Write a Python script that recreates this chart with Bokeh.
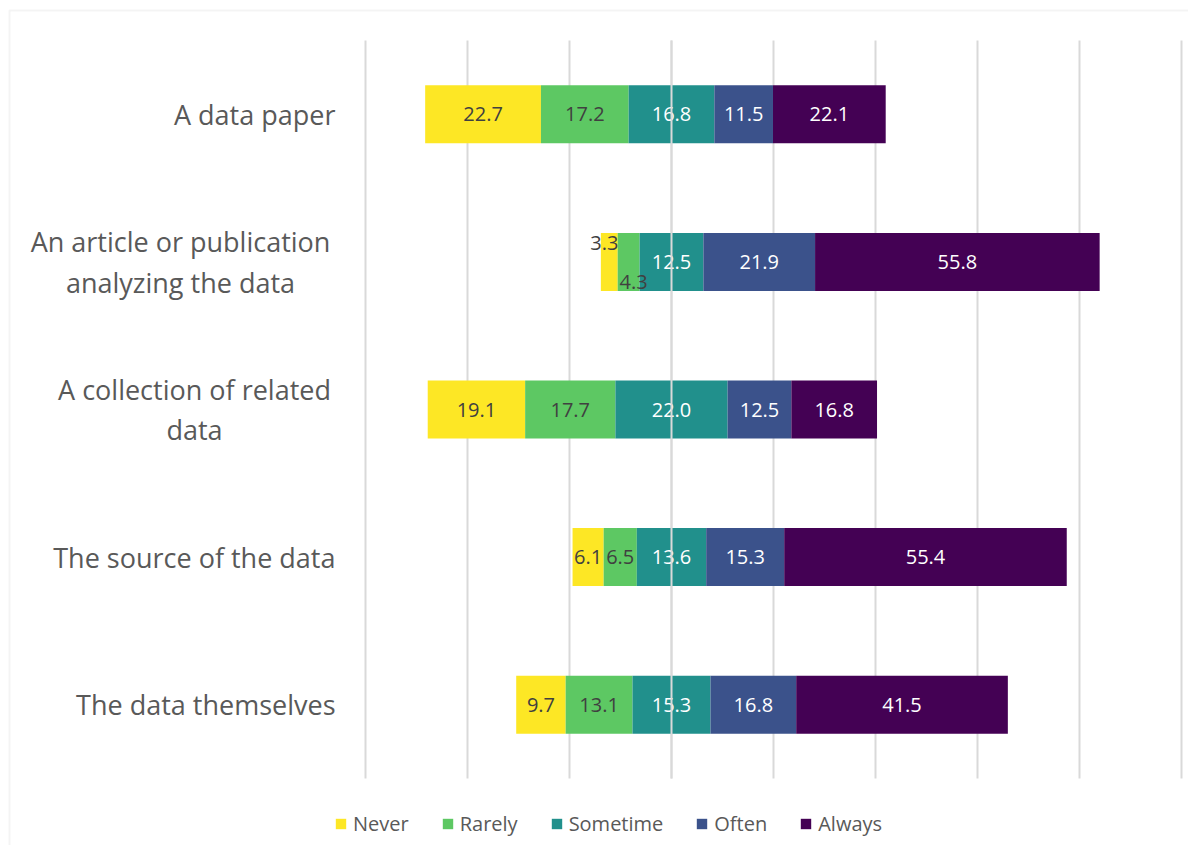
from bokeh.plotting import figure
from bokeh.models import ColumnDataSource, Range1d, Label, Legend, LegendItem, BoxAnnotation
from bokeh.core.properties import value
from bokeh.embed import file_html
from bokeh.resources import INLINE

# ---- data ----
categories = ["A data paper",
              "An article or publication\nanalyzing the data",
              "A collection of related\ndata",
              "The source of the data",
              "The data themselves"]
series = ["Never", "Rarely", "Sometime", "Often", "Always"]
never = [22.7, 3.3, 19.1, 6.1, 9.7]
rarely = [17.2, 4.3, 17.7, 6.5, 13.1]
sometime = [16.8, 12.5, 22.0, 13.6, 15.3]
often = [11.5, 21.9, 12.5, 15.3, 16.8]
always = [22.1, 55.8, 16.8, 55.4, 41.5]
grid_ticks = [-60, -40, -20, 0, 20, 40, 60, 80, 100]

# ---- styles / layout ----
colors = ["#FDE725", "#5DC863", "#21908C", "#3B528B", "#440154"]
label_colors = ["#404040", "#404040", "#FFFFFF", "#FFFFFF", "#FFFFFF"]
FONT = "Open Sans"
GRAY = "#595959"
GRID = "#D9D9D9"
W, H = 1188, 845
PLOT_LEFT, PLOT_RIGHT = 365, 1181      # px of first / last grid line
PLOT_TOP, PLOT_BOTTOM = 40, 778        # px of top / bottom of plot area
nudges = {(0, 1): (-5, -19), (1, 1): (5, 20)}
cat_label_pos = {0: (-30, "right"), 1: (-185, "center"), 2: (-171, "center"),
                 3: (-30, "right"), 4: (-30, "right")}

values = [never, rarely, sometime, often, always]
n = len(categories)
ypos = list(range(n))

ppu_x = (PLOT_RIGHT - PLOT_LEFT) / (grid_ticks[-1] - grid_ticks[0])
ppu_y = (PLOT_BOTTOM - PLOT_TOP) / n
x0 = grid_ticks[0] - PLOT_LEFT / ppu_x
x1 = grid_ticks[0] + (W - PLOT_LEFT) / ppu_x
y_top = -0.5 - PLOT_TOP / ppu_y
y_bot = n - 0.5 + (H - PLOT_BOTTOM) / ppu_y

p = figure(width=W, height=H, output_backend="svg", toolbar_location=None,
           x_range=Range1d(x0, x1), y_range=Range1d(y_bot, y_top),
           min_border=0)
p.outline_line_color = None
p.background_fill_color = None
p.border_fill_color = None
p.axis.visible = False
p.grid.visible = False

# chart border (screen y measured from the bottom)
p.add_layout(BoxAnnotation(left=9, top=H - 10, right=W + 40, bottom=-40,
                           left_units="screen", right_units="screen",
                           top_units="screen", bottom_units="screen",
                           fill_color=None, fill_alpha=0,
                           line_color=GRID, line_width=2))

# grid lines (behind bars)
p.segment(x0=grid_ticks, x1=grid_ticks, y0=[-0.5] * len(grid_ticks),
          y1=[n - 0.5] * len(grid_ticks), line_color=GRID, line_width=2)

starts = [-(never[i] + rarely[i] + sometime[i] / 2.0) for i in range(n)]

legend_items = []
lab_x, lab_y, lab_t, lab_c, lab_dx, lab_dy = [], [], [], [], [], []
left = list(starts)
for s, name in enumerate(series):
    vals = values[s]
    right = [left[i] + vals[i] for i in range(n)]
    src = ColumnDataSource(dict(y=ypos, left=left, right=right))
    r = p.hbar(y="y", left="left", right="right", height=0.393, source=src,
               fill_color=colors[s], line_color=None)
    legend_items.append(LegendItem(label=name, renderers=[r]))
    for i in range(n):
        dx, dy = nudges.get((s, i), (0, 0))
        lab_x.append((left[i] + right[i]) / 2.0)
        lab_y.append(ypos[i])
        lab_t.append(f"{vals[i]:.1f}")
        lab_c.append(label_colors[s])
        lab_dx.append(dx)
        lab_dy.append(dy)
    left = right

lsrc = ColumnDataSource(dict(x=lab_x, y=lab_y, t=lab_t, c=lab_c, dx=lab_dx, dy=lab_dy))
p.text(x="x", y="y", text="t", text_color="c", x_offset="dx", y_offset="dy", source=lsrc,
       text_font=value(FONT), text_font_size="20px", text_align="center",
       text_baseline="middle")

# vertical axis line at 0 (drawn over the bars)
p.segment(x0=[0], x1=[0], y0=[-0.5], y1=[n - 0.5], line_color=GRID, line_width=2)

for i, cat in enumerate(categories):
    xo, al = cat_label_pos[i]
    p.add_layout(Label(x=grid_ticks[0], y=ypos[i], x_offset=xo, text=cat,
                       text_font=FONT, text_font_size="27px", text_color=GRAY,
                       text_align=al, text_baseline="middle",
                       text_line_height=1.09))

legend = Legend(items=legend_items, orientation="horizontal", location=(334, 8),
                glyph_width=13, glyph_height=13, label_standoff=6, spacing=32,
                label_text_font=FONT, label_text_font_size="20px",
                label_text_color=GRAY, border_line_color=None,
                background_fill_alpha=0, margin=0, padding=0)
p.add_layout(legend, "center")

open("out.html", "w").write(file_html(p, INLINE))
